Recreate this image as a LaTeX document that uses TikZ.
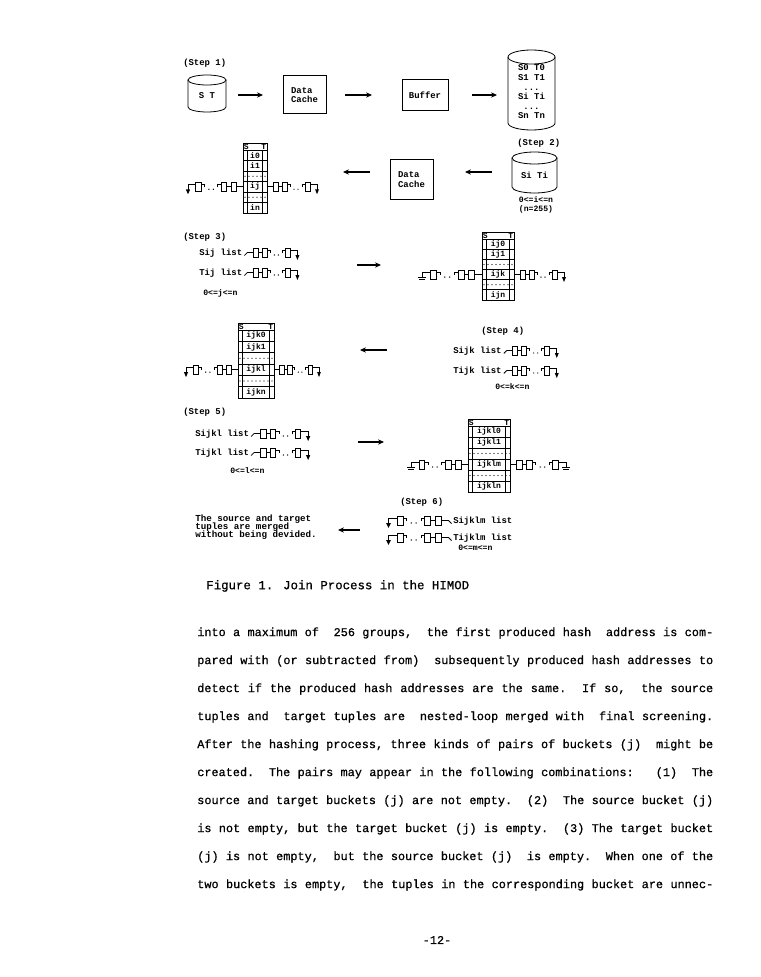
\documentclass[tikz,border=0pt]{standalone}
\usepackage{fontspec}
\setmonofont{Liberation Mono}
\newfontfamily\bodymono[FakeBold=0.7]{Liberation Mono}
\usetikzlibrary{arrows.meta}

\newcommand\bodyfont{\bodymono\fontsize{8.9}{11}\selectfont\frenchspacing\spaceskip=0.6em plus 1fil minus 0.2em\relax}
\newcommand\chainbody{%
 \draw[ln] (0,0) -- (6,0);
 \draw[ln] (6,-4.5) rectangle (11,4.5);
 \draw[ln] (11,0) -- (15,0);
 \draw[ln] (15,-4.5) rectangle (20,4.5);
 \draw[ln] (20,2) -- (23,2) -- (23,-0.5);
 \fill (27,-2.5) circle (0.7);
 \fill (31,-2.5) circle (0.7);
 \draw[ln] (35,-0.5) -- (35,2) -- (38,2);
 \draw[ln] (38,-4.5) rectangle (43,4.5);
 \draw[ln] (43,2) -- (50,2) -- (50,-3);
}
% #1 x1, #2 ytop, #3 x2, #4 ybottom, #5 ellipse radius (px, y downwards)
\newcommand\cyl[5]{%
 \pgfmathsetmacro\cxr{(#3-#1)/2}%
 \pgfmathsetmacro\cxc{(#3+#1)/2}%
 \draw[ln] (#1,{-#2-#5}) -- (#1,{-#4+#5}) arc[start angle=180, end angle=360, x radius=\cxr, y radius=#5] -- (#3,{-#2-#5});
 \draw[ln] (\cxc,{-#2-#5}) ellipse [x radius=\cxr, y radius=#5];
}
% #1 name, #2 x, #3 ytop, #4 width, #5 row height, #6-#9 labels
\newcommand\htable[9]{%
\begin{scope}[shift={(#2,-#3)}]
 \draw[ln] (0,0) rectangle (#4,{-7-6*#5});
 \draw[ln] (0,-7) -- (#4,-7);
 \draw[ln] (4.5,-7) -- (4.5,{-7-6*#5});
 \draw[ln] ({#4-4.5},-7) -- ({#4-4.5},{-7-6*#5});
 \foreach \i in {1,...,5}{\draw[ln] (0,{-7-\i*#5}) -- (#4,{-7-\i*#5});}
 \foreach \r in {2,4}{\foreach \xx in {2,6,...,#4}{\fill (\xx,{-7-(\r+0.5)*#5}) circle (0.6);}}
 \node[tcell,anchor=west] (#1-S) at (0.6,-3.5) {S};
 \node[tcell,anchor=east] (#1-T) at ({#4-0.6},-3.5) {T};
 \node[tcell] (#1-0) at ({#4/2},{-7-0.5*#5}) {#6};
 \node[tcell] (#1-1) at ({#4/2},{-7-1.5*#5}) {#7};
 \node[tcell] (#1-k) at ({#4/2},{-7-3.5*#5}) {#8};
 \node[tcell] (#1-n) at ({#4/2},{-7-5.5*#5}) {#9};
 \coordinate (#1-L) at (0,{-7-3.5*#5});
 \coordinate (#1-R) at (#4,{-7-3.5*#5});
\end{scope}}

\tikzset{
  ln/.style={line width=0.6pt},
  fig/.style={font=\ttfamily\bfseries\fontsize{6.7}{7.2}\selectfont, inner sep=0pt},
  lbl/.style={fig, anchor=west},
  sml/.style={font=\ttfamily\bfseries\fontsize{6.1}{7.2}\selectfont, inner sep=0pt},
  tcell/.style={font=\ttfamily\bfseries\fontsize{6}{6}\selectfont, inner sep=0pt},
  box/.style={draw, line width=0.75pt, fig, align=left},
  arr/.style={line width=0.9pt, -{Stealth[length=4.5pt,width=4pt]}},
  body/.style={font=\bodyfont, anchor=west, inner sep=0pt},
  captxt/.style={font=\bodymono\fontsize{9.3}{11}\selectfont, anchor=west, inner sep=0pt},
  note/.style={font=\ttfamily\bfseries\fontsize{6.9}{7}\selectfont, inner sep=0pt, anchor=base west},
  pics/chnA/.style={code={\chainbody\fill (48,-2.5) -- (52,-2.5) -- (50,-7.5) -- cycle;}},
  pics/chnG/.style={code={\chainbody\draw[ln] (46.5,-3) -- (53.5,-3); \draw[ln] (47.5,-5) -- (52.5,-5);}},
}

\begin{document}
\begin{tikzpicture}[x=0.75pt,y=0.75pt]
\useasboundingbox (0,0) rectangle (760,-977);
\fill[white] (0,0) rectangle (760,-977);

% ---------------- Step 1
\node[lbl] (s1) at (183,-63) {(Step 1)};
\cyl{188}{75}{226}{112}{5}
\node[fig] (st) at (207,-96) {S T};
\coordinate (a1s) at (238,-95); \coordinate (a1e) at (263,-95);
\draw[arr] (a1s) -- (a1e);
\node[box, minimum width=32.25pt, minimum height=28.5pt] (dc1) at (304.5,-95) {Data\\Cache};
\coordinate (a2s) at (345,-95); \coordinate (a2e) at (372,-95);
\draw[arr] (a2s) -- (a2e);
\node[box, minimum width=34.5pt, minimum height=23.25pt] (buf) at (425,-95.5) {Buffer};
\coordinate (a3s) at (472,-95); \coordinate (a3e) at (497,-95);
\draw[arr] (a3s) -- (a3e);
\cyl{508}{50}{555}{130}{7}
\node[fig, align=center] (db) at (531.5,-92) {S0 T0\\S1 T1\\...\\Si Ti\\...\\Sn Tn};

% ---------------- Step 2
\node[lbl] (s2) at (517,-143) {(Step 2)};
\cyl{512}{152}{557}{193}{6}
\node[fig] (siti) at (534.5,-175) {Si Ti};
\node[sml, align=center] (rng1) at (536,-205) {0<=i<=n\\(n=255)};
\coordinate (b1s) at (492,-172); \coordinate (b1e) at (465,-172);
\draw[arr] (b1s) -- (b1e);
\node[box, minimum width=32.25pt, minimum height=29.25pt] (dc2) at (411.5,-179.5) {Data\\Cache};
\coordinate (b2s) at (370,-172); \coordinate (b2e) at (343,-172);
\draw[arr] (b2s) -- (b2e);
\htable{t1}{243}{143}{24}{10.5}{i0}{i1}{ij}{in}
\pic[xscale=-1.1] at (t1-L) {chnA};
\pic at (t1-R) {chnA};

% ---------------- Step 3
\node[lbl] (s3) at (183,-237) {(Step 3)};
\node[lbl] (sij) at (199,-253) {Sij list};
\draw[ln] (sij.east) ++(2,-2.5) -- ++(3,3) coordinate (sijc);
\pic at (sijc) {chnA};
\node[lbl] (tij) at (199,-273) {Tij list};
\draw[ln] (tij.east) ++(2,-2.5) -- ++(3,3) coordinate (tijc);
\pic at (tijc) {chnA};
\node[lbl, sml] (rng3) at (203,-293) {0<=j<=n};
\coordinate (c3s) at (357,-265); \coordinate (c3e) at (381,-265);
\draw[arr] (c3s) -- (c3e);
\htable{t2}{482}{232}{32}{10.17}{ij0}{ij1}{ijk}{ijn}
\pic[xscale=-1.2] at (t2-L) {chnG};
\pic at (t2-R) {chnA};

% ---------------- Step 4
\htable{t3}{238}{323}{36}{11.33}{ijk0}{ijk1}{ijkl}{ijkn}
\pic[xscale=-1.04] at (t3-L) {chnA};
\pic[xscale=0.9] at (t3-R) {chnA};
\coordinate (d4s) at (387,-350); \coordinate (d4e) at (360,-350);
\draw[arr] (d4s) -- (d4e);
\node[lbl] (s4) at (481,-331) {(Step 4)};
\node[lbl] (sijk) at (453,-351) {Sijk list};
\draw[ln] (sijk.east) ++(2,-2.5) -- ++(3,3) coordinate (sijkc);
\pic at (sijkc) {chnA};
\node[lbl] (tijk) at (453,-371) {Tijk list};
\draw[ln] (tijk.east) ++(2,-2.5) -- ++(3,3) coordinate (tijkc);
\pic at (tijkc) {chnA};
\node[lbl, sml] (rng4) at (495,-387) {0<=k<=n};

% ---------------- Step 5
\node[lbl] (s5) at (183,-412) {(Step 5)};
\node[lbl] (sijkl) at (195,-434) {Sijkl list};
\draw[ln] (sijkl.east) ++(2,-2.5) -- ++(3,3) coordinate (sijklc);
\pic[xscale=1.08] at (sijklc) {chnA};
\node[lbl] (tijkl) at (195,-453) {Tijkl list};
\draw[ln] (tijkl.east) ++(2,-2.5) -- ++(3,3) coordinate (tijklc);
\pic[xscale=1.08] at (tijklc) {chnA};
\node[lbl, sml] (rng5) at (230,-471) {0<=l<=n};
\coordinate (e5s) at (358,-442); \coordinate (e5e) at (384,-442);
\draw[arr] (e5s) -- (e5e);
\htable{t4}{468}{419}{42}{11}{ijkl0}{ijkl1}{ijklm}{ijkln}
\pic[xscale=-1.14] at (t4-L) {chnG};
\pic[xscale=1.12] at (t4-R) {chnG};

% ---------------- Step 6
\node[lbl] (s6) at (400,-502) {(Step 6)};
\node[lbl] (sm) at (453,-521) {Sijklm list};
\draw[ln] (sm.west) ++(-1.5,-2.5) -- ++(-3,3) coordinate (smc);
\pic[xscale=-1.2] at (smc) {chnA};
\node[lbl] (tm) at (453,-538) {Tijklm list};
\draw[ln] (tm.west) ++(-1.5,-2.5) -- ++(-3,3) coordinate (tmc);
\pic[xscale=-1.2] at (tmc) {chnA};
\node[lbl, sml] (rng6) at (458,-548) {0<=m<=n};
\node[note] (m1) at (195,-521.5) {The source and target};
\node[note] (m2) at (195,-529.5) {tuples are merged};
\node[note] (m3) at (195,-537.5) {without being devided.};
\coordinate (f6s) at (360,-530); \coordinate (f6e) at (338,-530);
\draw[arr] (f6s) -- (f6e);

% ---------------- caption
\node[captxt] (figcap) at (206,-586) {Figure 1. Join Process in the HIMOD};

% ---------------- body text
\node[body] (l1) at (197,-633) {\makebox[387pt][s]{into a maximum of\ \ 256 groups,\ \ the first produced hash\ \ address is com-}};
\node[body] (l2) at (197,-661) {\makebox[387pt][s]{pared with (or subtracted from)\ \ subsequently produced hash addresses to}};
\node[body] (l3) at (197,-689) {\makebox[387pt][s]{detect if the produced hash addresses are the same.\ \ If so,\ \ the source}};
\node[body] (l4) at (197,-717) {\makebox[387pt][s]{tuples and\ \ target tuples are\ \ nested-loop merged with\ \ final screening.}};
\node[body] (l5) at (197,-745) {\makebox[387pt][s]{After the hashing process, three kinds of pairs of buckets (j)\ \ might be}};
\node[body] (l6) at (197,-773) {\makebox[387pt][s]{created.\ \ The pairs may appear in the following combinations:\ \ \ (1)\ \ The}};
\node[body] (l7) at (197,-801) {\makebox[387pt][s]{source and target buckets (j) are not empty.\ \ (2)\ \ The source bucket (j)}};
\node[body] (l8) at (197,-829) {\makebox[387pt][s]{is not empty, but the target bucket (j) is empty.\ \ (3) The target bucket}};
\node[body] (l9) at (197,-857) {\makebox[387pt][s]{(j) is not empty,\ \ but the source bucket (j)\ \ is empty.\ \ When one of the}};
\node[body] (l10) at (197,-885) {\makebox[387pt][s]{two buckets is empty,\ \ the tuples in the corresponding bucket are unnec-}};
\node[body, anchor=center] (pg) at (437,-940) {-12-};
\end{tikzpicture}
\end{document}
